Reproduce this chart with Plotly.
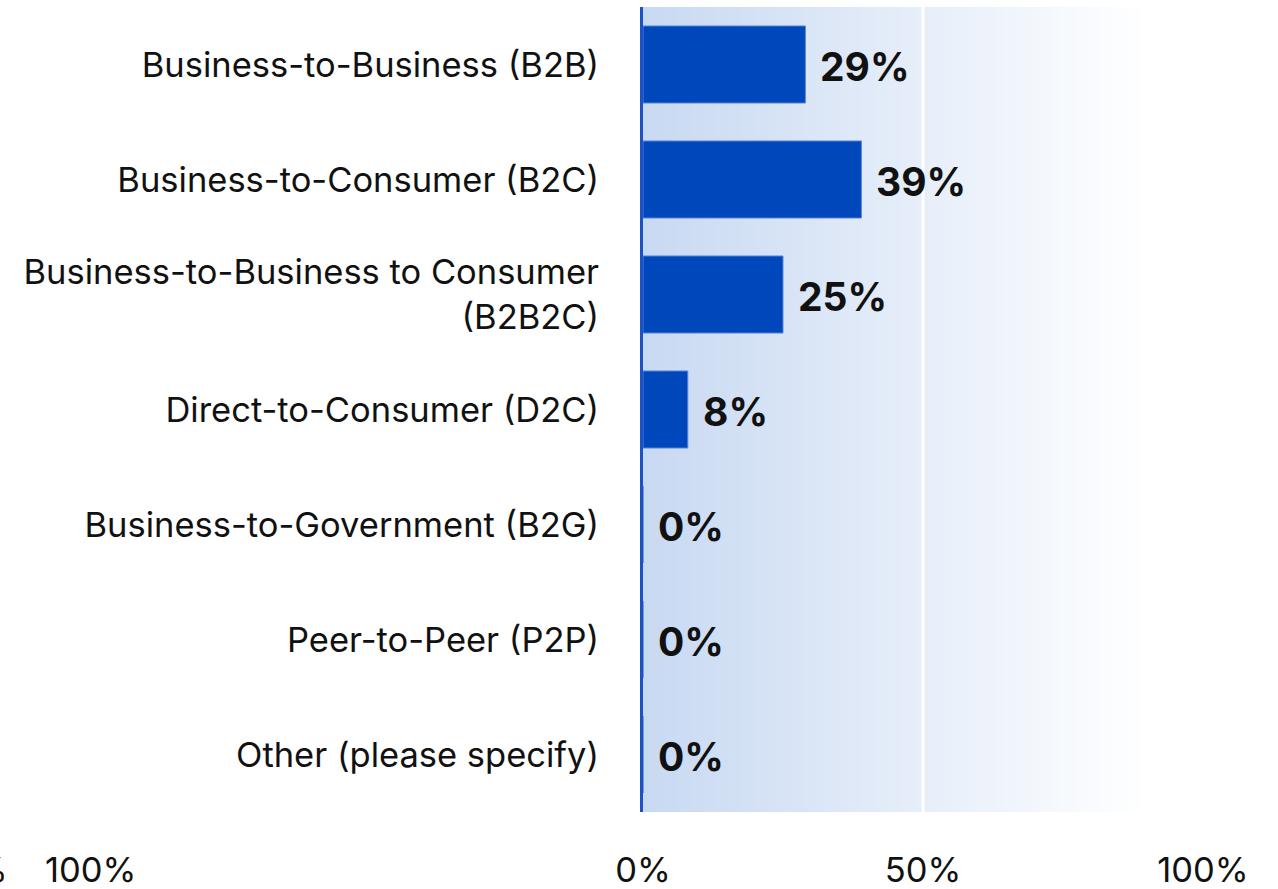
import numpy as np
import plotly.graph_objects as go

# Survey results: share of respondents by business model
categories = [
    "Business-to-Business (B2B)",
    "Business-to-Consumer (B2C)",
    "Business-to-Business to Consumer<br>(B2B2C)",
    "Direct-to-Consumer (D2C)",
    "Business-to-Government (B2G)",
    "Peer-to-Peer (P2P)",
    "Other (please specify)",
]
values = [29, 39, 25, 8, 0, 0, 0]
x_ticks = [0, 50, 100]
x_tick_labels = ["0%", "50%", "100%"]

FONT = "Inter"
LABEL_SIZE = 34.5
BAR_BLUE = "#0047bb"
positions = list(range(len(categories)))

fig = go.Figure()

# Soft horizontal gradient behind the bars (fades to white towards the right)
edges = np.linspace(0, 90, 181)
centers = (edges[:-1] + edges[1:]) / 2
fig.add_trace(go.Heatmap(
    x=edges,
    y=[-0.5, len(categories) - 0.5],
    z=[centers],
    colorscale=[[0, "#c8d9f2"], [1, "#ffffff"]],
    zmin=0, zmax=90,
    showscale=False,
    hoverinfo="skip",
))

fig.add_trace(go.Bar(
    x=values,
    y=positions,
    orientation="h",
    width=0.67,
    marker=dict(color=BAR_BLUE, line=dict(color="#5a86d6", width=1)),
    hoverinfo="skip",
))

# Bold value labels just past the end of each bar
for pos, val in zip(positions, values):
    fig.add_annotation(
        x=val, y=pos, xref="x", yref="y",
        text=f"<b>{val}%</b>", showarrow=False,
        xanchor="left", yanchor="middle", xshift=13, yshift=-2,
        font=dict(family=FONT, size=39, color="#111111"),
    )

# Remnant of a neighbouring panel's axis labels at the left edge
fig.add_annotation(x=(10 - 643) / 560, y=-0.072, xref="paper", yref="paper",
                   text="50%", showarrow=False, xanchor="right", yanchor="middle",
                   font=dict(family=FONT, size=LABEL_SIZE, color="#111111"))
fig.add_annotation(x=(90 - 643) / 560, y=-0.072, xref="paper", yref="paper",
                   text="100%", showarrow=False, xanchor="center", yanchor="middle",
                   font=dict(family=FONT, size=LABEL_SIZE, color="#111111"))

# White divider at the 50% mark
fig.add_shape(type="line", x0=50, x1=50, y0=0, y1=1, xref="x", yref="paper",
              line=dict(color="white", width=3), layer="above")

fig.update_layout(
    width=1278, height=889,
    margin=dict(l=643, r=75, t=7, b=77),
    paper_bgcolor="white",
    plot_bgcolor="white",
    showlegend=False,
    font=dict(family=FONT, size=LABEL_SIZE, color="#111111"),
    xaxis=dict(
        range=[0, 100],
        tickvals=x_ticks, ticktext=x_tick_labels,
        showgrid=False, zeroline=False, showline=False,
        ticks="", ticklabelstandoff=34, automargin=False,
        tickfont=dict(family=FONT, size=LABEL_SIZE, color="#111111"),
        fixedrange=True,
    ),
    yaxis=dict(
        range=[len(categories) - 0.5, -0.5],
        tickvals=positions, ticktext=categories,
        showgrid=False, zeroline=False,
        showline=True, linecolor="#1d52c6", linewidth=3,
        ticks="", ticklabelstandoff=34, automargin=False,
        tickfont=dict(family=FONT, size=LABEL_SIZE, color="#111111"),
        fixedrange=True,
    ),
)

fig.write_html("out.html")
